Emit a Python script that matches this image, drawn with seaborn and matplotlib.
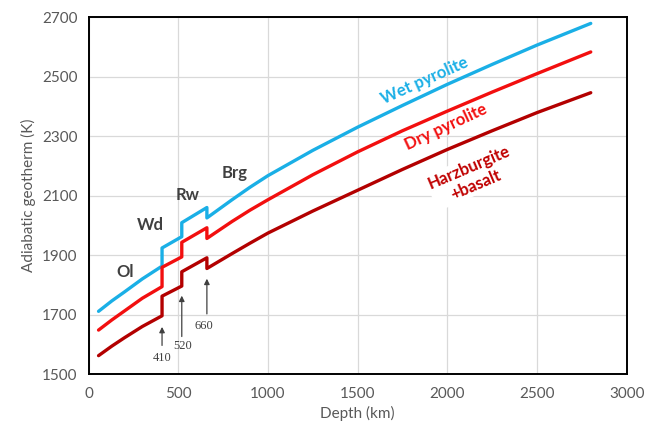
import matplotlib
matplotlib.use("Agg")
import matplotlib.pyplot as plt
import seaborn as sns
import pandas as pd

depth = [56, 130, 200, 300, 410, 410, 520, 520, 660, 660, 800, 900, 1000, 1250, 1500, 1750, 2000, 2250, 2500, 2800]
wet_pyrolite = [1711, 1746, 1776, 1820, 1863, 1924, 1962, 2009, 2060, 2025, 2086, 2128, 2167, 2252, 2330, 2403, 2474, 2541, 2606, 2679]
dry_pyrolite = [1648, 1682, 1712, 1755, 1794, 1859, 1894, 1943, 1992, 1956, 2013, 2051, 2086, 2170, 2247, 2318, 2384, 2448, 2510, 2583]
harzburgite_basalt = [1562, 1594, 1622, 1660, 1696, 1762, 1796, 1844, 1891, 1855, 1905, 1940, 1974, 2048, 2118, 2188, 2255, 2318, 2379, 2446]

series_names = ["Wet pyrolite", "Dry pyrolite", "Harzburgite\n+basalt"]
colors = ["#1AAFE6", "#F20F0F", "#B30000"]

phase_labels = ["Ol", "Wd", "Rw", "Brg"]
phase_pos = [(205, 1843), (343, 2001), (555, 2102), (817, 2176)]
transition_depths = [410, 520, 660]

rows = []
for name, vals in zip(series_names, [wet_pyrolite, dry_pyrolite, harzburgite_basalt]):
    for i, (d, t) in enumerate(zip(depth, vals)):
        rows.append({"series": name, "order": i, "Depth": d, "T": t})
df = pd.DataFrame(rows)

sns.set_style("white")
plt.rcParams["font.family"] = ["Lato", "DejaVu Sans"]

fig = plt.figure(figsize=(6.46, 4.29), dpi=100)
ax = fig.add_axes([0.137, 0.128, 0.833, 0.832])

sns.lineplot(data=df, x="Depth", y="T", hue="series", palette=dict(zip(series_names, colors)),
             estimator=None, sort=False, units="series", linewidth=2.4, legend=False, ax=ax)
for ln in ax.get_lines():
    ln.set_solid_joinstyle("round")

ax.set_xlim(0, 3000)
ax.set_ylim(1500, 2700)
ax.set_xticks(range(0, 3001, 500))
ax.set_yticks(range(1500, 2701, 200))
ax.grid(True, color="#D9D9D9", linewidth=0.9)
ax.set_axisbelow(True)
for s in ax.spines.values():
    s.set_color("black")
    s.set_linewidth(1.4)
ax.tick_params(direction="in", length=4, width=1.0, colors="black", labelcolor="#595959", labelsize=11)
ax.tick_params(axis="x", pad=9)
ax.tick_params(axis="y", pad=8)
ax.set_xlabel("Depth (km)", color="#595959", fontsize=11)
ax.set_ylabel("Adiabatic geotherm (K)", color="#595959", fontsize=11)

for lab, (x, y) in zip(phase_labels, phase_pos):
    ax.text(x, y, lab, ha="center", va="center", fontsize=12, fontweight="bold", color="#404040")

# series labels
ax.text(1871, 2488, "Wet pyrolite", rotation=24, ha="center", va="center", fontsize=12,
        fontweight="bold", color=colors[0], rotation_mode="anchor")
ax.text(1993, 2330, "Dry pyrolite", rotation=25, ha="center", va="center", fontsize=12,
        fontweight="bold", color=colors[1], rotation_mode="anchor")
ax.text(2140, 2165, "Harzburgite\n+basalt", rotation=23, ha="center", va="center", fontsize=12,
        fontweight="bold", color="#C00000", rotation_mode="anchor", linespacing=1.25,
        bbox=dict(facecolor="white", edgecolor="none", pad=1))

arrow_tail = [1587, 1617, 1693]
arrow_tip = [1668, 1773, 1830]
label_xy = [(410, 1554), (522, 1595), (644, 1662)]
for d, t0, t1, (lx, ly) in zip(transition_depths, arrow_tail, arrow_tip, label_xy):
    ax.annotate("", xy=(d, t1), xytext=(d, t0),
                arrowprops=dict(arrowstyle="-|>", color="#404040", lw=0.9, mutation_scale=8))
    ax.text(lx, ly, str(d), ha="center", va="center", fontsize=9, color="#404040",
            family=["Liberation Serif", "DejaVu Serif"])

fig.savefig("out.png", dpi=100)
